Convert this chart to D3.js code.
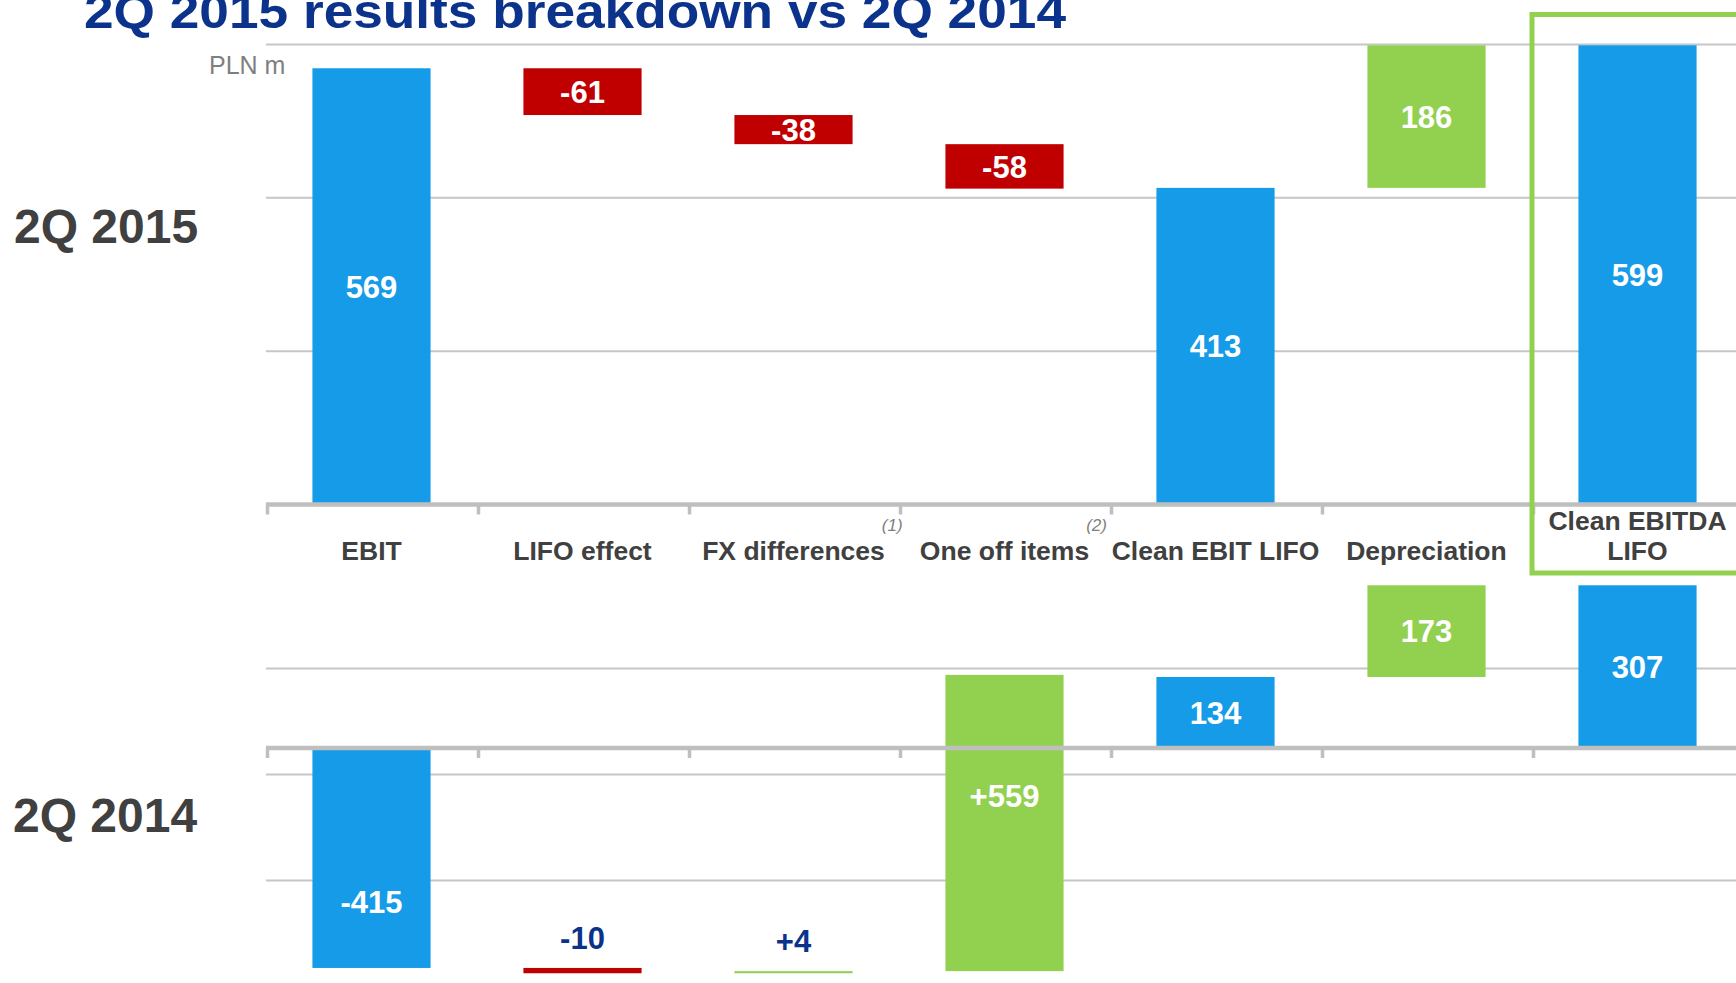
<!DOCTYPE html>
<html>
<head>
  <meta charset="utf-8">
  <title>2Q 2015 results breakdown vs 2Q 2014</title>
  <script src="https://cdn.jsdelivr.net/npm/d3@7"></script>
  <style>
    html, body {
      margin: 0;
      background: #fff;
      overflow: hidden;
    }
    svg {
      font-family: Arial, "Liberation Sans", Helvetica, sans-serif;
    }
  </style>
</head>
<body>
  <svg id="chart" width="1736" height="983"></svg>

  <script>
  // data (PLN m)
  var categories = ["EBIT", "LIFO effect", "FX differences", "One off items",
                    "Clean EBIT LIFO", "Depreciation", "Clean EBITDA LIFO"];
  // total = bar from zero, delta = signed change, add = unsigned step up
  var kinds = ["total", "delta", "delta", "delta", "total", "add", "total"];
  var footnotes = [null, null, "(1)", "(2)", null, null, null];
  var values2015 = [569, -61, -38, -58, 413, 186, 599];
  var values2014 = [-415, -10, 4, 559, 134, 173, 307];
  // where the 2014 value label sits (in PLN m), null = middle of the bar
  var labelAt2014 = [-290, null, null, -90, null, null, null];
  var ticks2015 = [200, 400, 600];
  var ticks2014 = [150, -50, -250];

  var blue = "#169be9", red = "#c00000", green = "#92d050",
      grid = "#c6c6c6", axisGray = "#bfbfbf", darkText = "#404040", navy = "#0b338c";

  var svg = d3.select("#chart");

  var x = d3.scaleBand()
      .domain(categories)
      .range([266, 1743]);

  var barW = x.bandwidth() * 0.56,
      barOff = (x.bandwidth() - barW) / 2;

  var y15 = d3.scaleLinear().domain([0, 600]).range([504.5, 44.5]);
  var y14 = d3.scaleLinear().domain([0, 300]).range([748, 589]);

  // plain hyphen instead of the unicode minus d3.format gives
  function fmtNum(v, signed) {
    return d3.format(signed ? "+d" : "d")(v).replace("\u2212", "-");
  }

  function waterfall(values) {
    var run = 0;
    return values.map(function(v, i) {
      var d = { cat: categories[i], kind: kinds[i], value: v };
      if (kinds[i] == "total") {
        d.from = 0; d.to = v; run = v;
      } else {
        d.from = run; d.to = run + v; run = run + v;
      }
      return d;
    });
  }

  function barColor(d) {
    if (d.kind == "total") return blue;
    return d.value < 0 ? red : green;
  }

  // title (cut at the top edge, as on the slide)
  svg.append("text")
      .attr("x", 84)
      .attr("y", 28)
      .attr("font-size", 49)
      .attr("font-weight", "bold")
      .attr("fill", navy)
      .attr("textLength", 982)
      .attr("lengthAdjust", "spacingAndGlyphs")
      .text("2Q 2015 results breakdown vs 2Q 2014");

  function drawPanel(values, y, ticks, signDeltas, labelAt) {
    var g = svg.append("g");
    var data = waterfall(values);

    g.selectAll("line.grid")
      .data(ticks)
      .enter().append("line")
        .attr("class", "grid")
        .attr("x1", x.range()[0])
        .attr("x2", 1736)
        .attr("y1", function(t) { return y(t); })
        .attr("y2", function(t) { return y(t); })
        .attr("stroke", grid)
        .attr("stroke-width", 2);

    g.selectAll("rect.bar")
      .data(data)
      .enter().append("rect")
        .attr("class", "bar")
        .attr("x", function(d) { return x(d.cat) + barOff; })
        .attr("width", barW)
        .attr("y", function(d) { return y(Math.max(d.from, d.to)); })
        .attr("height", function(d) { return Math.abs(y(d.from) - y(d.to)); })
        .attr("fill", barColor);

    // zero axis with ticks at the category boundaries
    var y0 = y(0);
    g.append("line")
        .attr("x1", x.range()[0])
        .attr("x2", x.range()[1])
        .attr("y1", y0)
        .attr("y2", y0)
        .attr("stroke", axisGray)
        .attr("stroke-width", 4.5);

    var bounds = categories.map(function(c) { return x(c); }).concat([x.range()[1]]);
    g.selectAll("line.tick")
      .data(bounds)
      .enter().append("line")
        .attr("class", "tick")
        .attr("x1", function(b) { return b + 1.5; })
        .attr("x2", function(b) { return b + 1.5; })
        .attr("y1", y0)
        .attr("y2", y0 + 10)
        .attr("stroke", axisGray)
        .attr("stroke-width", 3.5);

    function thin(d) { return Math.abs(y(d.from) - y(d.to)) < 15; }

    g.selectAll("text.value")
      .data(data)
      .enter().append("text")
        .attr("class", "value")
        .attr("x", function(d) { return x(d.cat) + x.bandwidth() / 2; })
        .attr("y", function(d, i) {
          if (thin(d)) return y(Math.max(d.from, d.to)) - 30;
          if (labelAt && labelAt[i] != null) return y(labelAt[i]);
          return (y(d.from) + y(d.to)) / 2;
        })
        .attr("dy", "0.36em")
        .attr("text-anchor", "middle")
        .attr("font-size", 31)
        .attr("font-weight", "bold")
        .attr("fill", function(d) { return thin(d) ? navy : "#fff"; })
        .text(function(d) { return fmtNum(d.value, signDeltas && d.kind == "delta"); });
  }

  drawPanel(values2015, y15, ticks2015, false, null);
  drawPanel(values2014, y14, ticks2014, true, labelAt2014);

  // category labels under the 2015 axis
  var catLabels = svg.append("g")
      .attr("font-size", 26.5)
      .attr("font-weight", "bold")
      .attr("fill", darkText)
      .attr("text-anchor", "middle");

  categories.forEach(function(c, i) {
    var t = catLabels.append("text")
        .attr("x", x(c) + x.bandwidth() / 2)
        .attr("y", 560)
        .text(c);
    // wrap labels wider than their band
    if (t.node().getComputedTextLength() > x.bandwidth()) {
      var words = c.split(" ");
      var lines = [words.slice(0, -1).join(" "), words[words.length - 1]];
      t.text(null);
      lines.forEach(function(l, j) {
        t.append("tspan")
            .attr("x", x(c) + x.bandwidth() / 2)
            .attr("y", 560 - (lines.length - 1 - j) * 30)
            .text(l);
      });
    }
    if (footnotes[i]) {
      var w = t.node().getComputedTextLength();
      svg.append("text")
          .attr("x", x(c) + x.bandwidth() / 2 + w / 2 - 3)
          .attr("y", 531)
          .attr("font-size", 17)
          .attr("font-style", "italic")
          .attr("fill", "#7f7f7f")
          .text(footnotes[i]);
    }
  });

  // unit and period labels
  svg.append("text")
      .attr("x", 209)
      .attr("y", 74)
      .attr("font-size", 25)
      .attr("fill", "#7f7f7f")
      .text("PLN m");

  svg.append("text")
      .attr("x", 14)
      .attr("y", 243)
      .attr("font-size", 48)
      .attr("font-weight", "bold")
      .attr("fill", darkText)
      .text("2Q 2015");

  svg.append("text")
      .attr("x", 13)
      .attr("y", 832)
      .attr("font-size", 48)
      .attr("font-weight", "bold")
      .attr("fill", darkText)
      .text("2Q 2014");

  // highlight box around the last category
  var last = categories[categories.length - 1];
  svg.append("rect")
      .attr("x", x(last))
      .attr("y", 14.5)
      .attr("width", x.step() + 20)
      .attr("height", 558.5)
      .attr("fill", "none")
      .attr("stroke", green)
      .attr("stroke-width", 5);
  </script>
</body>
</html>
